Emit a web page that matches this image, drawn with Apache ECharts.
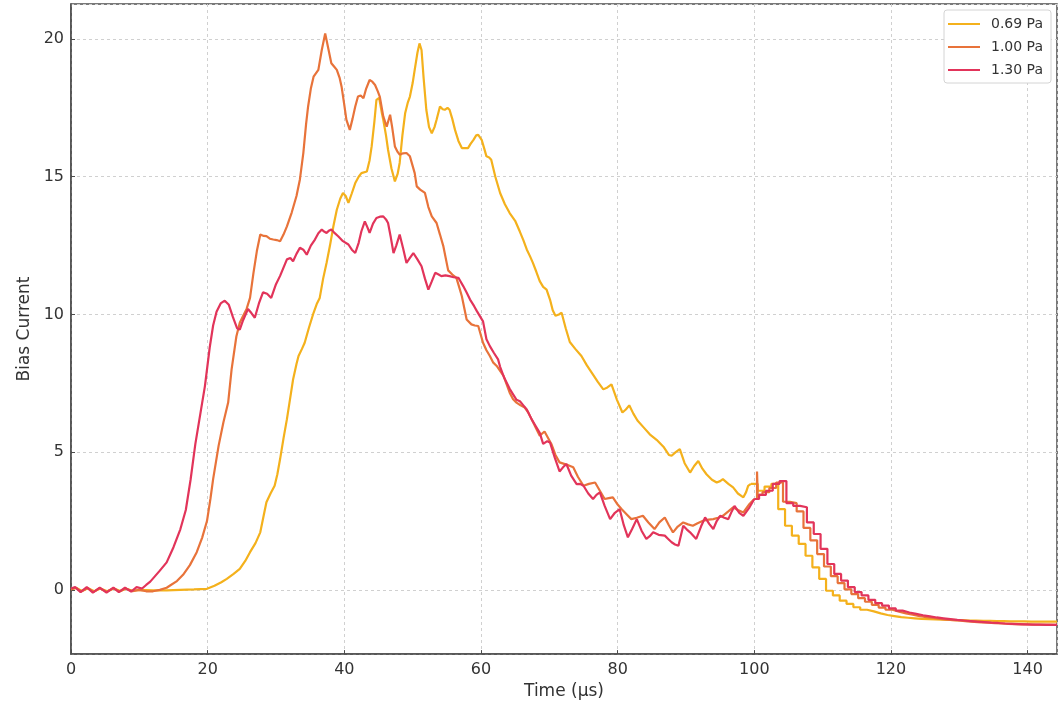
<!DOCTYPE html>
<html>
<head>
<meta charset="utf-8">
<title>Bias Current</title>
<script src="https://cdn.jsdelivr.net/npm/echarts@6/dist/echarts.min.js"></script>
<style>
  html, body { margin: 0; padding: 0; background: #fff; }
  #chart { width: 1058px; height: 705px; }
</style>
</head>
<body>
<div id="chart"></div>
<script>
// Bias current traces, [time (µs), current] pairs.
// Each trace has a finely sampled part and a coarse stepped tail.
const seriesNames = ['0.69 Pa', '1.00 Pa', '1.30 Pa'];
const seriesColors = ['#F4B11C', '#E8733A', '#E2345A'];

const xTicks = [0, 20, 40, 60, 80, 100, 120, 140];
const yTicks = [0, 5, 10, 15, 20];

const trace069 = [
  [0,0.03],[0.8,0.07],[1.6,-0.04],[2.5,0.06],[3.4,-0.05],[4.3,0.05],[5.3,-0.05],[6.3,0.05],[7.2,-0.04],[8.1,0.04],
  [9,-0.03],[10,0.0],[12,-0.02],[14,-0.02],[16,0.0],[18,0.02],[19.9,0.04],[21,0.15],[22,0.28],[22.8,0.4],
  [23.8,0.58],[24.7,0.76],[25.5,1.05],[26.2,1.37],[27,1.7],[27.7,2.09],[28.2,2.7],[28.6,3.18],[29.2,3.5],[29.8,3.78],
  [30.2,4.2],[30.6,4.75],[31.1,5.5],[31.6,6.2],[32.1,7.0],[32.5,7.64],[33,8.2],[33.3,8.49],[33.8,8.75],[34.2,8.97],
  [34.8,9.5],[35.5,10.06],[36.0,10.4],[36.4,10.6],[36.9,11.3],[37.4,11.87],[37.9,12.5],[38.4,13.2],[38.9,13.8],[39.4,14.2],
  [39.8,14.41],[40.2,14.3],[40.6,14.05],[41.1,14.4],[41.6,14.77],[42.1,15.0],[42.5,15.13],[43.3,15.19],[43.7,15.6],[44.0,16.1],
  [44.4,17.0],[44.7,17.79],[45.1,17.86],[45.5,17.3],[45.7,17.07],[46.1,16.5],[46.4,15.98],[46.9,15.3],[47.4,14.83],[47.8,15.1],
  [48.1,15.5],[48.5,16.5],[48.9,17.3],[49.3,17.7],[49.6,17.91],[50,18.4],[50.3,18.88],[50.7,19.5],[51,19.84],[51.3,19.6],
  [51.6,18.6],[52,17.43],[52.4,16.8],[52.8,16.58],[53.2,16.8],[53.5,17.07],[54,17.55],[54.4,17.45],[54.7,17.43],[55.1,17.5],
  [55.4,17.43],[55.8,17.1],[56.2,16.7],[56.7,16.3],[57.2,16.04],[58.1,16.04],[58.5,16.2],[58.9,16.34],[59.3,16.5],[59.6,16.52],
  [60.1,16.34],[60.5,16.0],[60.8,15.74],[61.2,15.7],[61.5,15.62],[62.1,15.0],[62.8,14.41],[63.5,14.0],[64.2,13.68],[65,13.4],
  [65.7,13.0],[66.2,12.7],[66.7,12.36],[67.2,12.1],[67.6,11.87],[68.1,11.55],[68.6,11.21],[69.1,11.0],[69.6,10.9],[70.1,10.54],
  [70.5,10.15],[70.9,9.95],[71.4,10.0],[71.8,10.06],[72.4,9.5],[73,9.0],[73.8,8.75],[74.7,8.49],[75.5,8.15],[76.3,7.85],
  [77.1,7.55],[77.9,7.28],[78.5,7.35],[79.1,7.46],[79.9,6.9],[80.7,6.44],[81.2,6.55],[81.7,6.7],[82.3,6.4],[82.9,6.15],
  [83.8,5.9],[84.7,5.65],[85.7,5.45],[86.7,5.2],[87.5,4.9],[87.9,4.87],[88.5,5.0],[89.1,5.11],[89.8,4.6],[90.6,4.26],
  [91.2,4.5],[91.8,4.68],[92.4,4.4],[93,4.2],[93.8,4.0],[94.5,3.9],[95,3.95],[95.4,4.02],[96.2,3.85],[96.9,3.72],
  [97.6,3.5],[98.4,3.36],[98.8,3.55],[99.1,3.78],[99.5,3.85]
];
const steps069 = [
  [99.5,3.85],[100.5,3.6],[101.5,3.75],[102.5,3.85],[103.5,2.93],[104.5,2.33],[105.5,1.97],[106.5,1.67],[107.5,1.24],[108.5,0.82],
  [109.5,0.4],[110.5,-0.03],[111.5,-0.2],[112.5,-0.39],[113.5,-0.51],[114.5,-0.63],[115.5,-0.72],[116.5,-0.78],[117.5,-0.85],[118.5,-0.91],
  [119.5,-0.95],[120.5,-0.99],[121.5,-1.01],[122.5,-1.03],[123.5,-1.05],[124.5,-1.06],[125.5,-1.07],[126.5,-1.08],[127.5,-1.09],[128.5,-1.1],
  [129.5,-1.1],[130.5,-1.11],[131.5,-1.11],[132.5,-1.12],[133.5,-1.12],[134.5,-1.13],[135.5,-1.13],[136.5,-1.14],[137.5,-1.14],[138.5,-1.14],
  [139.5,-1.15],[140.5,-1.15],[141.5,-1.15],[142.5,-1.15],[143.5,-1.15],[144.3,-1.15]
];

const trace100 = [
  [0,0.02],[0.7,0.08],[1.5,-0.06],[2.4,0.07],[3.3,-0.07],[4.2,0.06],[5.2,-0.07],[6.2,0.06],[7.1,-0.06],[8,0.05],
  [9,-0.05],[10,0.0],[11,-0.05],[12,-0.05],[13,0.0],[14,0.08],[14.5,0.16],[15.5,0.32],[16.4,0.55],[17.4,0.9],
  [18.4,1.37],[19.2,1.9],[19.9,2.5],[20.4,3.3],[20.8,4.02],[21.6,5.23],[22.3,6.08],[23,6.8],[23.5,8.0],[24.2,9.2],
  [24.7,9.7],[25.2,9.95],[25.7,10.2],[26.2,10.6],[26.7,11.5],[27.2,12.3],[27.7,12.9],[28.2,12.85],[28.6,12.84],[29.1,12.75],
  [29.6,12.72],[30.1,12.7],[30.6,12.66],[31.1,12.9],[31.6,13.2],[32.3,13.7],[33,14.3],[33.5,14.9],[34,15.86],[34.4,16.9],
  [34.7,17.55],[35.1,18.2],[35.5,18.63],[36.2,18.88],[36.7,19.6],[37.2,20.2],[37.7,19.6],[38.1,19.12],[38.5,19.0],[38.9,18.88],
  [39.3,18.6],[39.6,18.27],[40.0,17.6],[40.3,17.07],[40.8,16.7],[41.2,17.1],[41.6,17.55],[42,17.91],[42.4,17.95],[42.8,17.85],
  [43.2,18.2],[43.7,18.51],[44.1,18.45],[44.5,18.33],[44.9,18.1],[45.2,17.9],[45.7,17.19],[46.2,16.82],[46.7,17.25],[47.0,16.8],
  [47.4,16.1],[47.8,15.9],[48.1,15.8],[48.6,15.85],[49.1,15.86],[49.6,15.74],[50.3,15.13],[50.6,14.65],[51.1,14.53],[51.8,14.41],
  [52.3,13.9],[52.8,13.56],[53.5,13.32],[54,12.9],[54.5,12.47],[55.2,11.6],[55.8,11.45],[56.4,11.33],[56.8,11.0],[57.2,10.66],
  [57.9,9.82],[58.6,9.64],[59.1,9.6],[59.6,9.58],[60.3,8.97],[60.8,8.7],[61.3,8.49],[61.8,8.25],[62.3,8.13],[63.3,7.77],
  [64.2,7.16],[64.7,6.92],[65.2,6.8],[65.8,6.7],[66.4,6.62],[66.9,6.45],[67.4,6.2],[68,5.9],[68.6,5.6],[69.3,5.75],
  [70.3,5.3],[70.9,4.9],[71.5,4.63],[72.5,4.55],[73.5,4.45],[74.2,4.1],[75,3.78],[75.8,3.85],[76.7,3.9],[77.4,3.6],
  [78.1,3.3],[78.7,3.33],[79.3,3.36],[80,3.1],[80.6,2.93],[81.3,2.75],[82,2.57],[82.8,2.62],[83.7,2.69],[84.5,2.45],
  [85.4,2.21],[86.1,2.45],[86.9,2.63],[87.5,2.35],[88.1,2.09],[88.8,2.3],[89.6,2.45],[90.3,2.38],[91,2.33],[91.7,2.42],
  [92.5,2.51],[93.3,2.55],[94,2.57],[94.7,2.62],[95.4,2.69],[96.2,2.85],[96.9,3.0],[97.6,2.9],[98.4,2.81],[99.3,3.12],
  [100,3.3]
];
const steps100 = [
  [100,3.3],[100.4,4.3],[100.5,3.45],[101.2,3.55],[102.2,3.7],[103.2,3.9],[104.2,3.2],[105.2,3.15],[106.2,2.85],[107.2,2.25],
  [108.2,1.8],[109.2,1.3],[110.2,0.85],[111.2,0.5],[112.2,0.25],[113.2,0.02],[114.2,-0.15],[115.2,-0.3],[116.2,-0.43],[117.2,-0.54],
  [118.2,-0.64],[119.2,-0.72],[120.2,-0.79],[121.2,-0.85],[122.2,-0.9],[123.2,-0.95],[124.2,-0.99],[125.2,-1.02],[126.2,-1.05],[127.2,-1.08],
  [128.2,-1.1],[129.2,-1.12],[130.2,-1.14],[131.2,-1.16],[132.2,-1.18],[133.2,-1.19],[134.2,-1.21],[135.2,-1.22],[136.2,-1.23],[137.2,-1.24],
  [138.2,-1.25],[139.2,-1.25],[140.2,-1.26],[141.2,-1.26],[142.2,-1.26],[143.2,-1.27],[144.3,-1.27]
];

const trace130 = [
  [0,0.05],[0.6,0.1],[1.4,-0.08],[2.3,0.1],[3.2,-0.1],[4.2,0.08],[5.2,-0.1],[6.2,0.08],[7.0,-0.08],[7.9,0.08],
  [8.8,-0.06],[9.6,0.1],[10.4,0.05],[11,0.18],[11.6,0.3],[12.3,0.5],[13,0.7],[14,1.0],[15,1.55],[16,2.2],
  [16.8,2.9],[17.5,4.0],[18.2,5.3],[19,6.5],[19.6,7.4],[20.3,8.8],[20.8,9.6],[21.3,10.1],[21.9,10.4],[22.5,10.5],
  [23.1,10.35],[23.7,9.9],[24.3,9.5],[24.7,9.45],[25.2,9.8],[25.9,10.2],[26.4,10.05],[26.9,9.88],[27.5,10.4],[28.1,10.8],
  [28.7,10.75],[29.3,10.6],[30,11.1],[30.6,11.4],[31.1,11.7],[31.6,12.0],[32.1,12.05],[32.5,11.93],[33,12.2],[33.5,12.42],
  [34,12.35],[34.5,12.17],[35.1,12.5],[35.7,12.72],[36.2,12.95],[36.7,13.08],[37.1,13.0],[37.4,12.96],[37.8,13.05],[38.1,13.08],
  [38.6,12.95],[39.1,12.84],[39.8,12.66],[40.6,12.54],[41.1,12.35],[41.6,12.23],[42.1,12.6],[42.5,13.02],[43,13.38],[43.4,13.15],
  [43.7,12.96],[44.2,13.3],[44.7,13.5],[45.2,13.55],[45.7,13.56],[46.1,13.45],[46.4,13.32],[46.8,12.8],[47.2,12.23],[47.6,12.5],
  [48.1,12.9],[48.6,12.4],[49.1,11.87],[49.6,12.05],[50.1,12.23],[50.7,12.0],[51.3,11.75],[51.8,11.3],[52.3,10.9],[52.8,11.2],
  [53.3,11.51],[53.8,11.45],[54.2,11.39],[54.8,11.42],[55.4,11.39],[56,11.35],[56.7,11.33],[57.4,11.03],[57.9,10.8],[58.4,10.54],
  [59,10.3],[59.4,10.12],[60.3,9.75],[60.8,9.1],[61.3,8.85],[61.9,8.6],[62.5,8.37],[62.8,8.1],[63.4,7.7],[64.2,7.3],
  [64.7,7.1],[65.2,6.9],[65.7,6.85],[66.2,6.7],[66.7,6.55],[67.4,6.2],[68,5.95],[68.6,5.7],[69.1,5.3],[69.7,5.4],
  [70.1,5.35],[70.8,4.8],[71.5,4.3],[72,4.45],[72.5,4.57],[73.2,4.15],[74,3.84],[74.5,3.85],[75,3.78],[75.7,3.5],
  [76.4,3.3],[76.9,3.45],[77.4,3.54],[78.1,3.05],[78.9,2.57],[79.6,2.8],[80.3,2.93],[80.9,2.35],[81.5,1.91],[82.1,2.2],
  [82.8,2.57],[83.5,2.15],[84.2,1.85],[84.7,1.95],[85.2,2.09],[86,2.0],[86.9,1.97],[87.4,1.85],[87.9,1.73],[88.4,1.65],
  [88.9,1.6],[89.6,2.33],[90.1,2.2],[90.6,2.09],[91.5,1.85],[92.2,2.3],[92.8,2.63],[93.4,2.4],[94,2.21],[94.5,2.5],
  [95,2.69],[95.6,2.62],[96.2,2.57],[96.7,2.85],[97.1,3.05],[97.8,2.8],[98.4,2.69],[99.3,3.0],[100,3.3]
];
const steps130 = [
  [100,3.3],[100.7,3.45],[101.7,3.6],[102.7,3.85],[103.7,3.95],[104.7,3.15],[105.7,3.05],[106.7,3.0],[107.7,2.45],[108.7,2.03],
  [109.7,1.49],[110.7,0.94],[111.7,0.58],[112.7,0.34],[113.7,0.1],[114.7,-0.08],[115.7,-0.2],[116.7,-0.36],[117.7,-0.48],[118.7,-0.57],
  [119.7,-0.67],[120.7,-0.75],[121.7,-0.82],[122.7,-0.87],[123.7,-0.92],[124.7,-0.96],[125.7,-1.0],[126.7,-1.03],[127.7,-1.06],[128.7,-1.09],
  [129.7,-1.11],[130.7,-1.13],[131.7,-1.15],[132.7,-1.17],[133.7,-1.19],[134.7,-1.2],[135.7,-1.22],[136.7,-1.23],[137.7,-1.24],[138.7,-1.25],
  [139.7,-1.26],[140.7,-1.26],[141.7,-1.27],[142.7,-1.27],[143.7,-1.27],[144.3,-1.27]
];

const fineTraces = [trace069, trace100, trace130];
const stepTraces = [steps069, steps100, steps130];

const FONT = 'DejaVu Sans';
const AXIS_COLOR = '#4d4d4d';
const TEXT_COLOR = '#333';

function lineSeries(i, data, stepped) {
  return {
    name: seriesNames[i],
    type: 'line',
    data: data,
    step: stepped ? 'end' : false,
    showSymbol: false,
    symbol: 'none',
    smooth: false,
    clip: true,
    lineStyle: { color: seriesColors[i], width: 2.2 },
    itemStyle: { color: seriesColors[i] },
    emphasis: { disabled: true },
    z: 2 + i
  };
}

const series = [];
fineTraces.forEach((d, i) => series.push(lineSeries(i, d, false)));
stepTraces.forEach((d, i) => series.push(lineSeries(i, d, true)));

const chart = echarts.init(document.getElementById('chart'), null, { renderer: 'canvas' });
chart.setOption({
  animation: false,
  backgroundColor: '#fff',
  textStyle: { fontFamily: FONT },
  grid: {
    left: 71, right: 1, top: 4, bottom: 48,
    show: true, borderColor: AXIS_COLOR, borderWidth: 1.5, backgroundColor: 'transparent'
  },
  legend: {
    data: seriesNames,
    orient: 'vertical',
    left: 944, top: 10,
    padding: [7, 8, 6, 4],
    itemGap: 9,
    itemWidth: 32,
    itemHeight: 2,
    icon: 'rect',
    backgroundColor: '#fff',
    borderColor: '#d4d4d4',
    borderWidth: 1,
    borderRadius: 3,
    textStyle: { fontFamily: FONT, fontSize: 14, color: TEXT_COLOR, padding: [0, 0, 0, 6] }
  },
  xAxis: {
    type: 'value',
    min: 0, max: 144.3, interval: 20,
    name: 'Time (µs)',
    nameLocation: 'middle',
    nameGap: 28,
    nameTextStyle: { fontFamily: FONT, fontSize: 17, color: TEXT_COLOR },
    axisLine: { show: true, onZero: false, lineStyle: { color: AXIS_COLOR, width: 1.5 } },
    axisTick: { show: true, inside: true, length: 4, lineStyle: { color: AXIS_COLOR } },
    axisLabel: {
      fontFamily: FONT, fontSize: 16, color: TEXT_COLOR, margin: 8,
      showMaxLabel: false,
      formatter: v => (xTicks.indexOf(v) >= 0 ? String(v) : '')
    },
    splitLine: { show: true, lineStyle: { color: '#d0d0d0', width: 1, type: [3, 3] } }
  },
  yAxis: {
    type: 'value',
    min: -2.33, max: 21.27, splitNumber: 5,
    name: 'Bias Current',
    nameLocation: 'middle',
    nameGap: 35,
    nameRotate: 90,
    nameTextStyle: { fontFamily: FONT, fontSize: 17, color: TEXT_COLOR },
    axisLine: { show: true, onZero: false, lineStyle: { color: AXIS_COLOR, width: 1.5 } },
    axisTick: { show: true, inside: true, length: 4, lineStyle: { color: AXIS_COLOR } },
    axisLabel: {
      fontFamily: FONT, fontSize: 16, color: TEXT_COLOR, margin: 7,
      showMinLabel: false, showMaxLabel: false,
      formatter: v => (yTicks.indexOf(v) >= 0 ? String(v) : '')
    },
    splitLine: { show: true, lineStyle: { color: '#d0d0d0', width: 1, type: [3, 3] } }
  },
  series: series
});
</script>
</body>
</html>
